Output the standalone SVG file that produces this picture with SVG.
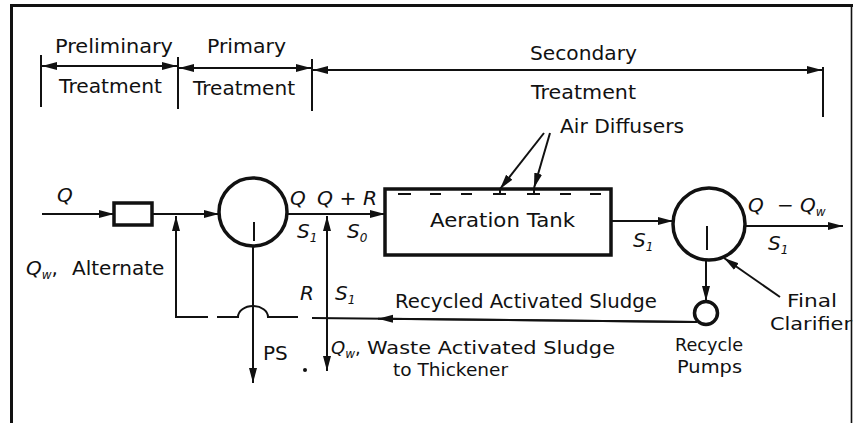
<svg xmlns="http://www.w3.org/2000/svg" width="853" height="423" viewBox="0 0 853 423">
<style>
.t{font-family:"DejaVu Sans","Liberation Sans",sans-serif;font-size:20px;fill:#111}
.s{font-size:18px}
.i{font-style:italic}
.sub{font-size:12px}
.ln{stroke:#111;stroke-width:2;fill:none}
.thk{stroke:#111;stroke-width:3.5;fill:none}
.ar{marker-end:url(#ah)}
.ar2{marker-start:url(#ah);marker-end:url(#ah)}
</style>
<defs>
<marker id="ah" markerUnits="userSpaceOnUse" markerWidth="16" markerHeight="10" refX="15" refY="5" orient="auto-start-reverse"><path d="M0,1 L15,5 L0,9 z" fill="#111"/></marker>
</defs>
<rect width="853" height="423" fill="#fff"/>
<g id="frame">
<path d="M11.5,423 V5.5 H853" stroke="#111" stroke-width="3" fill="none"/>
<path d="M851.5,5 V423" stroke="#111" stroke-width="1.6" fill="none"/>
</g>
<g id="scale">
<path class="ln" d="M41,55 V107 M178,57 V109 M312,59 V111 M823,67 V117"/>
<path class="ln ar2" d="M42,66 H177"/>
<path class="ln ar2" d="M179,68 H311"/>
<path class="ln ar2" d="M313,70 H822"/>
<text class="t" x="55" y="53" textLength="118" lengthAdjust="spacingAndGlyphs">Preliminary</text>
<text class="t" x="207" y="53" textLength="79" lengthAdjust="spacingAndGlyphs">Primary</text>
<text class="t" x="59" y="93" textLength="103" lengthAdjust="spacingAndGlyphs">Treatment</text>
<text class="t" x="193" y="95" textLength="102" lengthAdjust="spacingAndGlyphs">Treatment</text>
<text class="t" x="530" y="60" textLength="107" lengthAdjust="spacingAndGlyphs">Secondary</text>
<text class="t" x="531" y="99" textLength="105" lengthAdjust="spacingAndGlyphs">Treatment</text>
</g>
<g id="bar-screen">
<rect class="thk" x="114" y="203" width="38" height="22"/>
</g>
<g id="primary-clarifier">
<circle class="thk" cx="253" cy="212" r="34"/>
<path class="ln" d="M254,222 V241"/>
</g>
<g id="aeration-tank">
<rect class="thk" x="385" y="189" width="226" height="66"/>
<path class="ln" d="M398,194 H411 M430,194 H441 M461,194 H472 M493,194 H506 M527,194 H540 M560,194 H571 M590,194 H601 M500,189 V194 M534,189 V194"/>
<text class="t" x="430" y="227" textLength="145" lengthAdjust="spacingAndGlyphs">Aeration Tank</text>
</g>
<g id="air-diffusers">
<text class="t" x="560" y="133" textLength="124" lengthAdjust="spacingAndGlyphs">Air Diffusers</text>
</g>
<g id="final-clarifier">
<circle class="thk" cx="709" cy="224" r="36"/>
<path class="ln" d="M707,226 V250"/>
<text class="t s" x="787" y="307" textLength="50" lengthAdjust="spacingAndGlyphs">Final</text>
<text class="t s" x="770" y="330" textLength="82" lengthAdjust="spacingAndGlyphs">Clarifier</text>
</g>
<g id="recycle-pump">
<circle class="thk" cx="706" cy="313" r="11.5"/>
<text class="t s" x="675" y="351" textLength="68" lengthAdjust="spacingAndGlyphs">Recycle</text>
<text class="t s" x="677" y="373" textLength="65" lengthAdjust="spacingAndGlyphs">Pumps</text>
</g>
<g id="connectors">
<path class="ln ar" d="M42,214 H114"/>
<path class="ln ar" d="M152,214 H219"/>
<path class="ln ar" d="M287,214 H385"/>
<path class="ln ar" d="M611,221 H673"/>
<path class="ln ar" d="M745,226 H843"/>
<path class="ln ar" d="M208,317 H176 V216"/>
<path class="ln" d="M217,317 H238 A15,11 0 0 1 268,317 H298"/>
<path class="ln" d="M697,322 L312,318"/>
<path class="ln ar" d="M697,322 L378,318.7"/>
<path class="ln ar" d="M327,318 V216"/>
<path class="ln ar" d="M327,318 V371"/>
<path class="ln ar" d="M253,246 V383"/>
<path class="ln ar" d="M706,260 V301"/>
<path class="ln ar" d="M780,297 L724,258"/>
<path class="ln ar" d="M544,133 L500,189"/>
<path class="ln ar" d="M550,133 L534,188"/>
<circle cx="305" cy="370" r="2" fill="#111"/>
</g>
<g id="labels">
<text class="t i" x="57" y="202">Q</text>
<text class="t i" x="290" y="205">Q</text>
<text class="t" x="317" y="205" textLength="60" lengthAdjust="spacingAndGlyphs"><tspan class="i">Q</tspan> + <tspan class="i">R</tspan></text>
<text class="t i" x="297" y="238">S<tspan class="sub" dy="4">1</tspan></text>
<text class="t i" x="347" y="238">S<tspan class="sub" dy="4">0</tspan></text>
<text class="t i" x="633" y="247">S<tspan class="sub" dy="4">1</tspan></text>
<text class="t" x="748" y="212"><tspan class="i">Q</tspan><tspan x="777">−</tspan><tspan class="i" x="800">Q</tspan><tspan class="sub i" dy="4">w</tspan></text>
<text class="t i" x="768" y="250">S<tspan class="sub" dy="4">1</tspan></text>
<text class="t" x="26" y="275"><tspan class="i">Q</tspan><tspan class="sub i" dy="4">w</tspan><tspan dy="-4">,</tspan><tspan x="72">Alternate</tspan></text>
<text class="t i" x="300" y="300">R</text>
<text class="t i" x="335" y="300">S<tspan class="sub" dy="4">1</tspan></text>
<text class="t" x="395" y="308" textLength="262" lengthAdjust="spacingAndGlyphs">Recycled Activated Sludge</text>
<text class="t" x="263" y="360">PS</text>
<text class="t s" x="331" y="354"><tspan class="i">Q</tspan><tspan class="sub i" dy="4">w</tspan><tspan dy="-4">,</tspan></text>
<text class="t s" x="367" y="354" textLength="248" lengthAdjust="spacingAndGlyphs">Waste Activated Sludge</text>
<text class="t s" x="393" y="376" textLength="115" lengthAdjust="spacingAndGlyphs">to Thickener</text>
</g>
</svg>
